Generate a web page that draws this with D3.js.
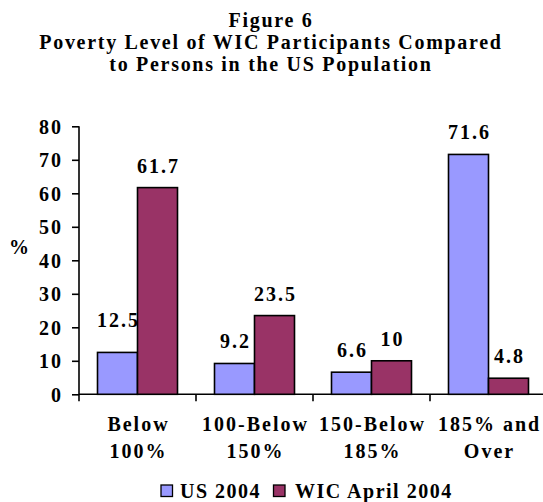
<!DOCTYPE html>
<html><head><meta charset="utf-8">
<script src="https://cdn.jsdelivr.net/npm/d3@7"></script>
<style>
body{margin:0;background:#fff;}
svg text{font-family:'Liberation Serif','Times New Roman',serif !important;font-weight:bold !important;fill:#000;}
</style></head>
<body><svg id="c" width="543" height="502"></svg>
<script>
const titleLines = ["Figure 6", "Poverty Level of WIC Participants Compared", "to Persons in the US Population"];
const categories = [["Below", "100%"], ["100-Below", "150%"], ["150-Below", "185%"], ["185% and", "Over"]];
const seriesNames = ["US 2004", "WIC April 2004"];
const us2004 = [12.5, 9.2, 6.6, 71.6];
const wic2004 = [61.7, 23.5, 10, 4.8];
const yTicks = [0, 10, 20, 30, 40, 50, 60, 70, 80];
const colors = ["#9999FF", "#993366"];

const svg = d3.select("#c");
const fs = 20, ls = 2;

// title
svg.selectAll(".title").data(titleLines).enter().append("text")
  .attr("x", 271).attr("y", (d, i) => 27 + i * 22)
  .attr("text-anchor", "middle").style("font-size", "20px").style("letter-spacing", "1.7px")
  .text(d => d);

const left = 79, right = 547, y0 = 394.3, yTop = 126.3;
const idx = d3.range(categories.length);
const x = d3.scaleBand().domain(idx).range([left, right]).paddingInner(0).paddingOuter(0);
const groupW = 80;
const x1 = d3.scaleBand().domain([0, 1]).range([0, groupW]);
const y = d3.scaleLinear().domain([0, 80]).range([y0, yTop]);

// y axis
const yAxis = d3.axisLeft(y).tickValues(yTicks).tickSize(7).tickPadding(9);
const gy = svg.append("g").attr("transform", `translate(${left},0)`).call(yAxis);
gy.attr("font-family", null).attr("font-size", null);
gy.select(".domain").attr("stroke", "#000").attr("stroke-width", 1.6).attr("d", `M0,${yTop}V${y0}`);
gy.selectAll(".tick line").attr("stroke", "#000").attr("stroke-width", 1.6);
gy.selectAll(".tick text").style("font-size", fs + "px").style("letter-spacing", ls + "px").attr("dy", "0.34em").attr("fill", "#000");

// x axis
const boundaries = idx.map(i => x(i));
svg.append("line").attr("x1", left).attr("x2", 543).attr("y1", y0).attr("y2", y0).attr("stroke", "#000").attr("stroke-width", 1.6);
svg.selectAll(".xt").data(boundaries).enter().append("line")
  .attr("x1", d => d).attr("x2", d => d).attr("y1", y0).attr("y2", y0 + 7)
  .attr("stroke", "#000").attr("stroke-width", 1.6);

// bars
const series = [us2004, wic2004];
const bars = [];
series.forEach((vals, s) => vals.forEach((v, i) => bars.push({s, i, v})));
const gx = i => x(i) + (x.bandwidth() - groupW) / 2;
svg.selectAll(".bar").data(bars).enter().append("rect")
  .attr("x", d => gx(d.i) + x1(d.s)).attr("width", x1.bandwidth())
  .attr("y", d => y(d.v)).attr("height", d => y0 - y(d.v))
  .attr("fill", d => colors[d.s]).attr("stroke", "#000").attr("stroke-width", 1.6);

// value labels
svg.selectAll(".val").data(bars).enter().append("text")
  .attr("x", d => gx(d.i) + x1(d.s) + x1.bandwidth() / 2 + ls / 2)
  .attr("y", d => {
    let off = 15;
    if (d.s === 0 && d.i === 0) off = 25; // label lifted in the original to clear neighbour
    return y(d.v) - off;
  })
  .attr("text-anchor", "middle").style("font-size", fs + "px").style("letter-spacing", ls + "px")
  .text(d => d.v);

// category labels
const cg = svg.selectAll(".cat").data(categories).enter().append("text")
  .attr("text-anchor", "middle").style("font-size", fs + "px").style("letter-spacing", ls + "px");
cg.selectAll("tspan").data((d, i) => d.map(t => ({t, i}))).enter().append("tspan")
  .attr("x", d => x(d.i) + x.bandwidth() / 2 + ls / 2).attr("y", (d, j) => 430.5 + j * 27)
  .text(d => d.t);

// y label
svg.append("text").attr("x", 19).attr("y", 254).attr("text-anchor", "middle")
  .style("font-size", fs + "px").text("%");

// legend
const legX = [161, 273.5], legTX = [180, 295];
seriesNames.forEach((n, s) => {
  svg.append("rect").attr("x", legX[s]).attr("y", 485).attr("width", 11.5).attr("height", 11.5)
    .attr("fill", colors[s]).attr("stroke", "#000").attr("stroke-width", 1.3);
  svg.append("text").attr("x", legTX[s]).attr("y", 497.5).style("font-size", fs + "px").style("letter-spacing", "1.5px").text(n);
});
</script></body></html>
